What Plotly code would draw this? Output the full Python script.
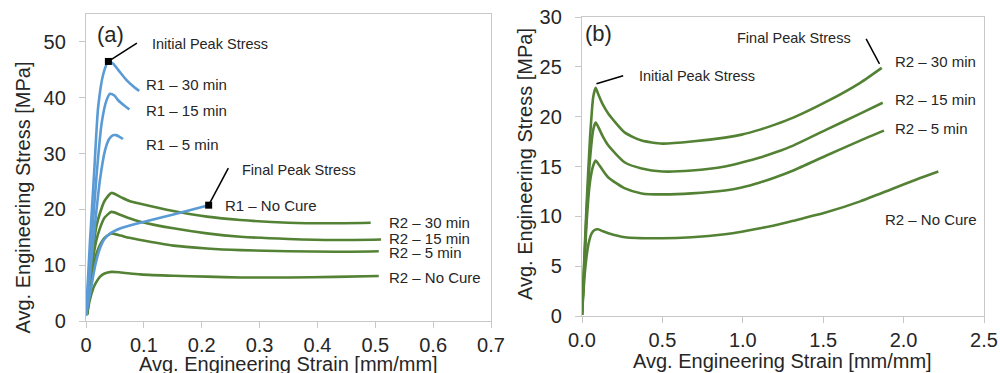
import plotly.graph_objects as go

# ---------------- data: panel (a) ----------------
r1_30_x = [0.0, 0.007, 0.014, 0.021, 0.030, 0.0387, 0.047, 0.057, 0.0705, 0.082, 0.092]
r1_30_y = [1.0, 14.5, 26.4, 38.3, 44.3, 46.5, 46.1, 44.8, 43.1, 42.0, 41.2]
r1_15_x = [0.0, 0.0098, 0.0185, 0.027, 0.035, 0.0416, 0.049, 0.056, 0.066, 0.075]
r1_15_y = [1.0, 14.5, 26.4, 35.4, 39.4, 40.7, 40.4, 39.5, 38.6, 37.9]
r1_5_x = [0.0, 0.0127, 0.024, 0.033, 0.040, 0.047, 0.052, 0.058, 0.064]
r1_5_y = [1.0, 14.5, 25.2, 30.6, 32.6, 33.3, 33.3, 33.0, 32.6]
r1_nc_x = [0.0, 0.008, 0.016, 0.024, 0.032, 0.042, 0.060, 0.094, 0.151, 0.212]
r1_nc_y = [1.0, 5.5, 10.0, 13.0, 14.7, 15.7, 16.6, 17.6, 19.1, 20.75]

r2a_30_x = [0.002, 0.008, 0.0127, 0.018, 0.024, 0.032, 0.044, 0.060, 0.075, 0.094, 0.151, 0.209, 0.267, 0.35, 0.42, 0.492]
r2a_30_y = [1.2, 8.5, 13.3, 17.0, 19.3, 21.5, 22.95, 22.2, 21.5, 21.0, 19.7, 18.7, 18.1, 17.6, 17.5, 17.6]
r2a_15_x = [0.002, 0.008, 0.0127, 0.018, 0.024, 0.032, 0.044, 0.060, 0.075, 0.094, 0.151, 0.209, 0.267, 0.35, 0.43, 0.51]
r2a_15_y = [1.2, 7.5, 11.5, 14.5, 16.6, 18.5, 19.55, 19.0, 18.4, 17.8, 16.6, 15.7, 15.1, 14.7, 14.5, 14.6]
r2a_5_x = [0.002, 0.008, 0.0127, 0.018, 0.024, 0.032, 0.044, 0.060, 0.075, 0.094, 0.151, 0.209, 0.267, 0.35, 0.43, 0.506]
r2a_5_y = [1.2, 6.5, 9.5, 12.0, 13.6, 14.9, 15.7, 15.3, 14.9, 14.5, 13.5, 13.0, 12.7, 12.5, 12.4, 12.5]
r2a_nc_x = [0.002, 0.006, 0.0127, 0.018, 0.024, 0.032, 0.044, 0.060, 0.094, 0.151, 0.209, 0.267, 0.35, 0.43, 0.506]
r2a_nc_y = [1.2, 3.5, 5.9, 7.0, 7.9, 8.5, 8.8, 8.7, 8.35, 8.1, 7.95, 7.8, 7.8, 7.9, 8.05]

# ---------------- data: panel (b) ----------------
r2b_x = [0.0, 0.015, 0.029, 0.05, 0.07, 0.085, 0.10, 0.13, 0.164, 0.267, 0.371, 0.5, 0.682, 0.889, 0.993, 1.107, 1.2, 1.314, 1.52, 1.73]
r2b_30_x = r2b_x + [1.864]
r2b_30_y = [0.1, 6.0, 11.3, 17.9, 22.0, 22.9, 22.3, 21.2, 20.3, 18.4, 17.6, 17.3, 17.5, 17.9, 18.2, 18.7, 19.2, 19.9, 21.5, 23.4, 24.9]
r2b_15_x = r2b_x + [1.87]
r2b_15_y = [0.1, 5.5, 10.5, 15.8, 18.7, 19.4, 19.0, 18.0, 17.1, 15.4, 14.8, 14.5, 14.6, 15.0, 15.4, 15.9, 16.4, 17.1, 18.7, 20.3, 21.4]
r2b_5_x = r2b_x + [1.878]
r2b_5_y = [0.1, 5.0, 9.5, 13.5, 15.1, 15.6, 15.3, 14.6, 13.9, 12.8, 12.3, 12.2, 12.3, 12.6, 12.9, 13.4, 13.9, 14.6, 16.1, 17.6, 18.6]
r2b_nc_x = [0.0, 0.019, 0.04, 0.06, 0.08, 0.10, 0.13, 0.164, 0.267, 0.5, 0.682, 0.889, 0.993, 1.107, 1.2, 1.314, 1.52, 1.73, 1.936, 2.08, 2.216]
r2b_nc_y = [0.1, 4.6, 7.2, 8.3, 8.65, 8.7, 8.5, 8.3, 7.9, 7.8, 7.9, 8.2, 8.45, 8.8, 9.1, 9.55, 10.4, 11.5, 12.8, 13.7, 14.5]

# markers
peak_a_x = [0.0387, 0.212]
peak_a_y = [46.5, 20.75]

BLUE = "#5B9BD5"
GREEN = "#548235"
FONT = "Liberation Sans"
TXT = "#262626"
FRAME = "#c8c8c8"

fig = go.Figure()

def add(x, y, color, xa="x", ya="y"):
    fig.add_trace(go.Scatter(x=x, y=y, mode="lines", xaxis=xa, yaxis=ya,
                             line=dict(color=color, width=2.6, shape="spline", smoothing=0.6),
                             showlegend=False, hoverinfo="skip"))

for xx, yy in [(r2a_nc_x, r2a_nc_y), (r2a_5_x, r2a_5_y), (r2a_15_x, r2a_15_y), (r2a_30_x, r2a_30_y)]:
    add(xx, yy, GREEN)
for xx, yy in [(r1_nc_x, r1_nc_y), (r1_5_x, r1_5_y), (r1_15_x, r1_15_y), (r1_30_x, r1_30_y)]:
    add(xx, yy, BLUE)
for xx, yy in [(r2b_nc_x, r2b_nc_y), (r2b_5_x, r2b_5_y), (r2b_15_x, r2b_15_y), (r2b_30_x, r2b_30_y)]:
    add(xx, yy, GREEN, "x2", "y2")

fig.add_trace(go.Scatter(x=peak_a_x, y=peak_a_y, mode="markers", marker=dict(symbol="square", size=7, color="black"),
                         showlegend=False, hoverinfo="skip"))

axis_common = dict(showgrid=False, zeroline=False, showline=True, linecolor=FRAME, linewidth=1.3, mirror=True,
                   ticks="outside", ticklen=6, tickcolor=FRAME, tickwidth=1.3, automargin=False,
                   tickfont=dict(family=FONT, size=20, color=TXT))

fig.update_layout(
    width=1000, height=373, margin=dict(l=0, r=0, t=0, b=0, autoexpand=False),
    paper_bgcolor="white", plot_bgcolor="white",
    xaxis=dict(domain=[0.086, 0.491], anchor="y", range=[0, 0.7], dtick=0.1, tick0=0, **axis_common),
    yaxis=dict(domain=[1 - 321 / 373, 1 - 14 / 373], anchor="x", range=[0, 55], dtick=10, tick0=0,
               ticklabelstandoff=9, **axis_common),
    xaxis2=dict(domain=[0.582, 0.984], anchor="y2", range=[0, 2.5], dtick=0.5, tick0=0, tickformat=".1f", **axis_common),
    yaxis2=dict(domain=[1 - 316 / 373, 1 - 17 / 373], anchor="x2", range=[0, 30], dtick=5, tick0=0,
                ticklabelstandoff=9, **axis_common),
)

def ann(text, x, y, xref="x", yref="y", size=15, xanchor="left", angle=0):
    fig.add_annotation(text=text, x=x, y=y, xref=xref, yref=yref, showarrow=False, xanchor=xanchor,
                       yanchor="middle", textangle=angle, font=dict(family=FONT, size=size, color=TXT))

# panel (a) labels
ann("(a)", 0.016, 51.4, size=22)
ann("Initial Peak Stress", 0.111, 49.7, size=14.5)
ann("R1 – 30 min", 0.1005, 42.4)
ann("R1 – 15 min", 0.1005, 37.7)
ann("R1 – 5 min", 0.1005, 31.7)
ann("Final Peak Stress", 0.267, 27.0, size=14.5)
ann("R1 – No Cure", 0.237, 20.75)
ann("R2 – 30 min", 0.521, 17.6)
ann("R2 – 15 min", 0.521, 14.8)
ann("R2 – 5 min", 0.521, 12.2)
ann("R2 – No Cure", 0.521, 7.75)

# panel (b) labels
ann("(b)", 0.005, 28.3, "x2", "y2", size=22)
ann("Initial Peak Stress", 0.34, 24.1, "x2", "y2", size=14.5)
ann("Final Peak Stress", 1.684, 27.9, "x2", "y2", size=14.5, xanchor="right")
ann("R2 – 30 min", 1.932, 25.5, "x2", "y2")
ann("R2 – 15 min", 1.932, 21.7, "x2", "y2")
ann("R2 – 5 min", 1.932, 18.8, "x2", "y2")
ann("R2 – No Cure", 1.874, 9.7, "x2", "y2")

# axis titles
ann("Avg. Engineering Stress [MPa]", 22 / 1000, 1 - 197.5 / 373, "paper", "paper", size=20, xanchor="center", angle=-90)
ann("Avg. Engineering Stress [MPa]", 525 / 1000, 1 - 164 / 373, "paper", "paper", size=20, xanchor="center", angle=-90)
ann("Avg. Engineering Strain [mm/mm]", 288 / 1000, 1 - 364 / 373, "paper", "paper", size=20, xanchor="center")
ann("Avg. Engineering Strain [mm/mm]", 782 / 1000, 1 - 361 / 373, "paper", "paper", size=20, xanchor="center")

# leader lines
lines = [
    ("x", "y", 0.0387, 46.5, 0.088, 49.8),
    ("x", "y", 0.212, 20.75, 0.246, 27.4),
    ("x2", "y2", 0.09, 23.3, 0.256, 24.1),
    ("x2", "y2", 1.767, 27.8, 1.85, 25.3),
]
for xr, yr, x0, y0, x1, y1 in lines:
    fig.add_shape(type="line", xref=xr, yref=yr, x0=x0, y0=y0, x1=x1, y1=y1,
                  line=dict(color="black", width=1.5))

fig.write_html("out.html")
